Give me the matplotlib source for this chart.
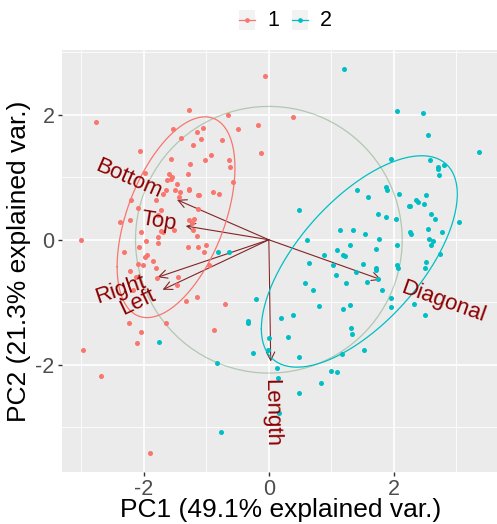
import numpy as np
import matplotlib.pyplot as plt
from matplotlib.patches import Rectangle
from matplotlib.lines import Line2D
from matplotlib.font_manager import FontProperties

plt.rcParams['font.family'] = ['Liberation Sans', 'DejaVu Sans']
plt.rcParams['axes.unicode_minus'] = False

# PC scores, group 1
pc1_g1 = [-0.06, -2.76, -1.28, -0.65, 0.38, -0.17, -1.54, -1.15, -1.05, -0.50,
          -1.40, -1.08, -0.75, -2.07, -1.22, -0.12, -0.92, -1.56, -1.02, -0.64,
          -1.26, -0.62, -1.99, -1.60, -1.30, -1.55, -1.63, -1.57, -0.58, -1.47,
          -1.64, -1.50, -1.42, -1.28, -1.27, -0.89, -0.79, -1.14, -1.11, -1.69,
          -1.43, -2.21, -1.80, -2.09, -1.73, -1.78, -1.14, -2.38, -2.22, -1.28,
          -1.23, -1.20, -1.73, -1.70, -1.52, -1.22, -1.15, -1.77, -3.00, -1.97,
          -1.77, -1.30, -1.14, -1.01, -2.08, -2.32, -1.95, -1.98, -1.03, -1.86,
          -2.10, -2.02, -0.96, -2.22, -1.80, -1.45, -1.79, -1.47, -2.18, -1.32,
          -1.15, -0.70, -2.24, -2.05, -1.64, -0.87, -2.11, -2.98, -2.68, -1.90,
          -2.04, -2.13]
pc2_g1 = [2.62, 1.89, 2.07, 2.00, 1.97, 1.84, 1.78, 1.73, 1.79, 1.77,
          1.63, 1.61, 1.59, 1.42, 1.52, 1.39, 1.35, 1.29, 1.27, 1.28,
          1.22, 1.16, 1.07, 1.06, 1.06, 1.01, 0.96, 0.98, 0.92, 0.90,
          0.80, 0.80, 0.76, 0.81, 0.79, 0.77, 0.73, 0.71, 0.71, 0.73,
          0.69, 0.64, 0.64, 0.51, 0.47, 0.39, 0.49, 0.28, 0.32, 0.32,
          0.27, 0.34, 0.14, 0.12, 0.16, 0.15, 0.06, 0.05, 0.00, -0.02,
          -0.05, -0.12, -0.12, -0.08, -0.12, -0.20, -0.24, -0.27, -0.20, -0.34,
          -0.39, -0.41, -0.41, -0.50, -0.45, -0.59, -0.61, -0.72, -0.80, -0.98,
          -0.92, -1.03, -1.34, -1.47, -1.33, -1.45, -1.66, -1.76, -2.18, -3.41,
          0.12, -0.59]

# PC scores, group 2
pc1_g2 = [1.20, 2.05, 2.46, 2.54, 3.37, 1.95, 2.58, 2.70, 2.70, 2.81,
          2.73, 1.41, 1.58, 1.88, 1.89, 2.09, 2.24, 2.26, 2.35, 2.39,
          2.49, 2.52, 0.48, 1.74, 1.88, 2.04, 2.60, 2.66, 3.05, 1.14,
          1.35, 1.54, 2.26, 2.28, 2.54, 2.77, 1.77, 0.61, 1.30, 2.05,
          2.57, 2.62, 2.60, 1.09, 1.18, 1.22, 1.72, 0.89, 0.64, 1.03,
          1.50, 1.72, 1.71, 2.05, 2.07, 2.52, 2.50, 2.74, 1.08, 1.39,
          1.24, 1.57, 0.58, 0.71, 1.81, 1.75, 0.81, 1.19, 1.30, 1.95,
          1.95, 2.33, 2.50, 0.19, 0.38, 0.31, 0.01, -0.02, 1.31, 1.33,
          0.48, 1.52, 1.17, 0.13, 0.14, 1.00, 1.09, 0.83, 0.48, 0.17,
          -0.77, -0.81, -0.63, -0.21, -1.76, -0.83, -0.33, -0.34, -0.26]
pc2_g2 = [2.73, 2.06, 2.03, 1.67, 1.41, 1.29, 1.27, 1.16, 1.13, 1.19,
          1.04, 0.80, 0.68, 0.84, 0.80, 0.74, 0.54, 0.54, 0.63, 0.60,
          0.57, 0.71, 0.48, 0.42, 0.36, 0.33, 0.42, 0.34, 0.28, 0.16,
          0.16, 0.09, 0.12, 0.10, 0.18, 0.13, 0.02, 0.00, -0.09, -0.08,
          0.02, -0.02, -0.08, -0.17, -0.25, -0.26, -0.14, -0.24, -0.37, -0.41,
          -0.39, -0.45, -0.49, -0.40, -0.45, -0.36, -0.45, -0.23, -0.57, -0.51,
          -0.70, -0.67, -0.69, -0.81, -0.80, -0.63, -1.06, -1.11, -1.04, -0.94,
          -1.08, -1.03, -1.21, -1.25, -1.21, -1.55, -1.58, -1.76, -1.42, -1.51,
          -1.87, -1.76, -1.83, -2.06, -2.22, -2.10, -2.12, -2.30, -2.45, -2.78,
          -3.08, -0.20, -0.20, -0.95, -1.63, -1.97, -1.30, -1.33, -1.82]

# variable loadings (arrow tips)
var_names = ['Length', 'Left', 'Right', 'Bottom', 'Top', 'Diagonal']
var_pc1 = [0.03, -1.70, -1.78, -1.47, -1.33, 1.80]
var_pc2 = [-1.95, -0.80, -0.60, 0.64, 0.22, -0.64]

groups = ['1', '2']
colors = ['#F8766D', '#00BFC4']
xlab = 'PC1 (49.1% explained var.)'
ylab = 'PC2 (21.3% explained var.)'


def group_ellipse(x, y, prob=0.68):
    xy = np.column_stack([x, y])
    sigma = np.cov(xy, rowvar=False)
    mu = xy.mean(axis=0)
    ed = np.sqrt(-2 * np.log(1 - prob))
    theta = np.linspace(-np.pi, np.pi, 100)
    circ = np.column_stack([np.cos(theta), np.sin(theta)])
    U = np.linalg.cholesky(sigma).T
    pts = circ @ U * ed + mu
    return pts[:, 0], pts[:, 1]


allx = np.array(pc1_g1 + pc1_g2)
ally = np.array(pc2_g1 + pc2_g2)

# ggplot style limits: 5% expansion, equal scale
xr = allx.max() - allx.min()
yr = ally.max() - ally.min()
xmin, xmax = allx.min() - 0.05 * xr, allx.max() + 0.05 * xr
ymin, ymax = ally.min() - 0.05 * yr, ally.max() + 0.05 * yr

W, H, dpi = 497, 524, 100
fig = plt.figure(figsize=(W / dpi, H / dpi), dpi=dpi)
panel_left, panel_top, panel_h = 61.5, 50, 422
scale = panel_h / (ymax - ymin)
panel_w = (xmax - xmin) * scale
ax = fig.add_axes([panel_left / W, (H - panel_top - panel_h) / H, panel_w / W, panel_h / H])
ax.set_xlim(xmin, xmax)
ax.set_ylim(ymin, ymax)

ax.set_facecolor('#EBEBEB')
for s in ax.spines.values():
    s.set_visible(False)
ax.set_xticks([-2, 0, 2])
ax.set_yticks([-2, 0, 2])
ax.set_xticks([-3, -1, 1, 3], minor=True)
ax.set_yticks([-3, -1, 1, 3], minor=True)
ax.grid(which='major', color='white', lw=1.2)
ax.grid(which='minor', color='white', lw=0.6)
ax.set_axisbelow(True)
ax.tick_params(which='major', length=3, width=1, color='#333333',
               labelsize=15.5, labelcolor='#4D4D4D', pad=2)
ax.tick_params(which='minor', length=0)

# correlation circle
r = np.sqrt(-2 * np.log(1 - 0.69)) * (np.mean(allx ** 2) * np.mean(ally ** 2)) ** 0.25
th = np.linspace(-np.pi, np.pi, 100)
ax.plot(r * np.cos(th), r * np.sin(th), color='#3F7F3D', alpha=1 / 3, lw=0.9)

# arrows
for vx, vy in zip(var_pc1, var_pc2):
    ax.annotate('', xy=(vx, vy), xytext=(0, 0),
                arrowprops=dict(arrowstyle='->,head_length=0.6,head_width=0.3',
                                mutation_scale=10, color='#832424', lw=0.8,
                                shrinkA=0, shrinkB=0))

# points and ellipses
gx = [pc1_g1, pc1_g2]
gy = [pc2_g1, pc2_g2]
for x, y, c in zip(gx, gy, colors):
    ax.scatter(x, y, s=13, color=c, linewidths=0, zorder=3)
for x, y, c in zip(gx, gy, colors):
    ex, ey = group_ellipse(x, y)
    ax.plot(ex, ey, color=c, lw=0.9, zorder=4)

# variable names, placed like ggbiplot (hjust = (1 - 1.5*sign(x))/2)
fig.canvas.draw()
renderer = fig.canvas.get_renderer()
fp = FontProperties(family=['Liberation Sans', 'DejaVu Sans'], size=16)
for name, vx, vy in zip(var_names, var_pc1, var_pc2):
    ang = np.degrees(np.arctan(vy / vx))
    hj = (1 - 1.5 * np.sign(vx)) / 2
    w, h, d = renderer.get_text_width_height_descent(name, fp, ismath=False)
    w = w * 72 / dpi
    a = np.radians(ang)
    ax.annotate(name, xy=(vx, vy), xytext=(-hj * w * np.cos(a), -hj * w * np.sin(a)),
                textcoords='offset points', rotation=ang, rotation_mode='anchor',
                ha='left', va='center', fontproperties=fp, color='#8B0000', zorder=5)

ax.set_xlabel(xlab, fontsize=19, labelpad=-1.5)
ax.set_ylabel(ylab, fontsize=19, labelpad=3)

# legend on top
def fx(px):
    return px / W


def fy(py):
    return (H - py) / H


key_w, key_h, ly = 16, 20, 20
key_x = [239, 292]
for kx, g, c in zip(key_x, groups, colors):
    fig.patches.append(Rectangle((fx(kx), fy(ly + key_h / 2)), key_w / W, key_h / H,
                                 transform=fig.transFigure, facecolor='#F2F2F2',
                                 edgecolor='none'))
    fig.lines.append(Line2D([fx(kx), fx(kx + key_w)], [fy(ly), fy(ly)],
                            transform=fig.transFigure, color=c, lw=0.9))
    fig.lines.append(Line2D([fx(kx + key_w / 2)], [fy(ly)], transform=fig.transFigure,
                            color=c, marker='o', markersize=3.4, markeredgewidth=0))
    fig.text(fx(kx + key_w + 12), fy(ly), g, fontsize=15.5, va='center', ha='left')

fig.savefig('out.png', dpi=dpi)
